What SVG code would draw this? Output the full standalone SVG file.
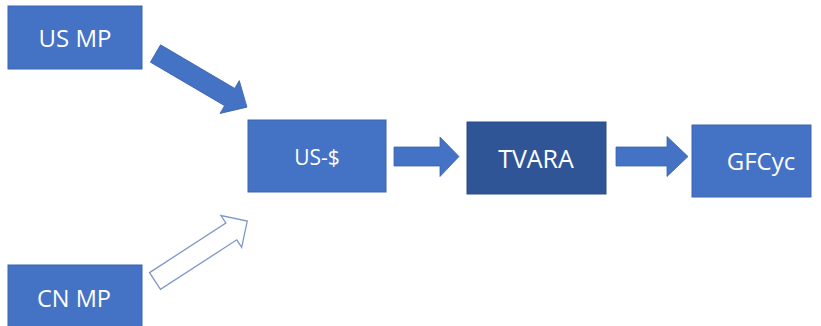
<svg xmlns="http://www.w3.org/2000/svg" width="821" height="326" viewBox="0 0 821 326">
  <style>
    .box { fill: #4472C4; stroke: #3B64AD; stroke-width: 1; }
    .box.dark { fill: #2F5597; stroke: #2A4C88; }
    .lbl { font-family: "Open Sans", "Liberation Sans", sans-serif; fill: #FFFFFF; text-anchor: middle; }
    .arrow { fill: #4472C4; stroke: #3B64AD; stroke-width: 0.8; }
    .arrow.hollow { fill: #FFFFFF; stroke: #7F97C6; stroke-width: 1.3; }
  </style>
  <rect width="821" height="326" fill="#FFFFFF"/>

  <g id="us-mp">
    <rect class="box" x="8" y="6" width="134" height="63"/>
    <text class="lbl" x="75" y="47" font-size="24">US MP</text>
  </g>

  <g id="cn-mp">
    <rect class="box" x="8" y="265" width="134" height="66"/>
    <text class="lbl" x="74" y="307" font-size="23.5">CN MP</text>
  </g>

  <g id="us-dollar">
    <rect class="box" x="248" y="120" width="138" height="72"/>
    <text class="lbl" x="317" y="165" font-size="21">US-$</text>
  </g>

  <g id="tvara">
    <rect class="box dark" x="467" y="122" width="139" height="72"/>
    <text class="lbl" x="536" y="168" font-size="25">TVARA</text>
  </g>

  <g id="gfcyc">
    <rect class="box" x="692" y="125" width="119" height="72"/>
    <text class="lbl" x="761" y="170" font-size="24">GFCyc</text>
  </g>

  <g id="connectors">
    <!-- US MP to US-$ -->
    <polygon class="arrow" transform="translate(155.5,53.5) rotate(30.4)" points="0,-10 86,-10 86,-19 106,0 86,19 86,10 0,10"/>
    <!-- CN MP to US-$ (outlined) -->
    <polygon class="arrow hollow" transform="translate(155,281) rotate(-33)" points="0,-10 91,-10 91,-19 110,0 91,19 91,10 0,10"/>
    <!-- US-$ to TVARA -->
    <polygon class="arrow" points="394,147 440,147 440,137 459,156.5 440,176.5 440,166 394,166"/>
    <!-- TVARA to GFCyc -->
    <polygon class="arrow" points="616,147 667,147 667,136.5 688,156.5 667,176.5 667,166 616,166"/>
  </g>
</svg>
